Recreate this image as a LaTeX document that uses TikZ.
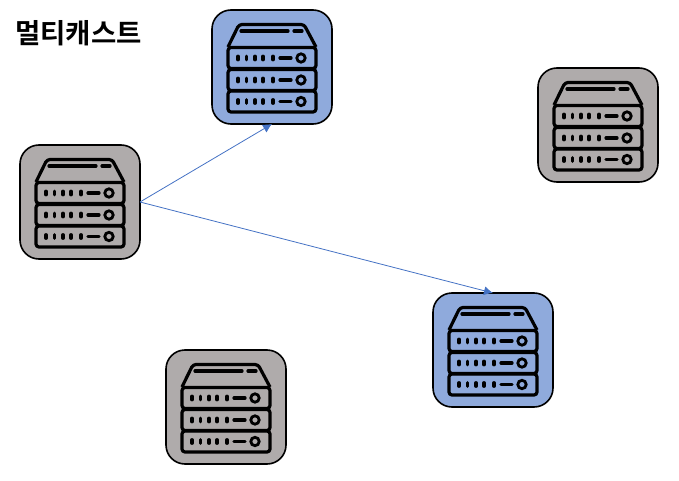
\documentclass[tikz,border=0pt]{standalone}
\usepackage{fontspec}
\newfontfamily\krfont{Noto Sans CJK KR}[BoldFont={Noto Sans CJK KR Bold}]
\usetikzlibrary{positioning}
\usetikzlibrary{arrows.meta}
\definecolor{boxgray}{HTML}{AFABAB}
\definecolor{boxblue}{HTML}{8FAADC}
\definecolor{linkblue}{HTML}{4472C4}
\tikzset{
    serverbox/.style={draw=black, line width=1.6pt, rounded corners=19pt, minimum width=120pt, minimum height=114pt, outer sep=0pt},
    grayserver/.style={serverbox, fill=boxgray},
    blueserver/.style={serverbox, fill=boxblue},
    link/.style={draw=linkblue, line width=0.8pt, -{Latex[length=9pt,width=9pt]}},
    iconline/.style={line width=3.2pt, line cap=round},
    rack/.pic={
        \draw[line width=3.2pt, rounded corners=3pt] (-44pt,-10.5pt) rectangle (44pt,10.5pt);
        \foreach \x in {-34,-25.5,-17,-9,1}
            \draw[iconline] (\x pt,-1.8pt) -- (\x pt,1.8pt);
        \draw[iconline] (8pt,0pt) -- (19pt,0pt);
        \draw[line width=2.8pt] (29pt,0pt) circle (4.2pt);
    }
}

\begin{document}
\begin{tikzpicture}[node distance=0pt]

    \useasboundingbox (0pt,0pt) rectangle (679pt,-481pt);

    %nodes
    \node[anchor=west, inner sep=0pt, font=\krfont\bfseries\fontsize{27.5}{30}\selectfont] (title) at (15pt,-33pt) {멀티캐스트};
    \node[grayserver] (source) at (80pt,-202pt) {};
    \node[blueserver, right=of source, xshift=72pt, yshift=135pt] (memberA) {};
    \node[grayserver, right=of source, xshift=398pt, yshift=77pt] (otherA) {};
    \node[blueserver, right=of source, xshift=293pt, yshift=-148pt] (memberB) {};
    \node[grayserver, right=of source, xshift=26pt, yshift=-205pt] (otherB) {};

    % icons
    \foreach \n in {source, memberA, otherA, memberB, otherB} {
        \draw[line width=3.2pt, line join=round, shift={(\n.center)}]
            (-44pt,20pt) [rounded corners=3pt] -- (-33pt,42.5pt) -- (32pt,42.5pt) -- (44pt,20pt);
        \draw[iconline, shift={(\n.center)}] (-31pt,36pt) -- (16pt,36pt);
        \draw[iconline, shift={(\n.center)}] (22pt,36pt) -- (30pt,36pt);
        \pic at ([yshift=9pt]\n.center) {rack};
        \pic at ([yshift=-13pt]\n.center) {rack};
        \pic at ([yshift=-34.5pt]\n.center) {rack};
    }

    % edges
    \draw[link] (source.east) -- (memberA.south);
    \draw[link] (source.east) -- (memberB.north);

\end{tikzpicture}
\end{document}
